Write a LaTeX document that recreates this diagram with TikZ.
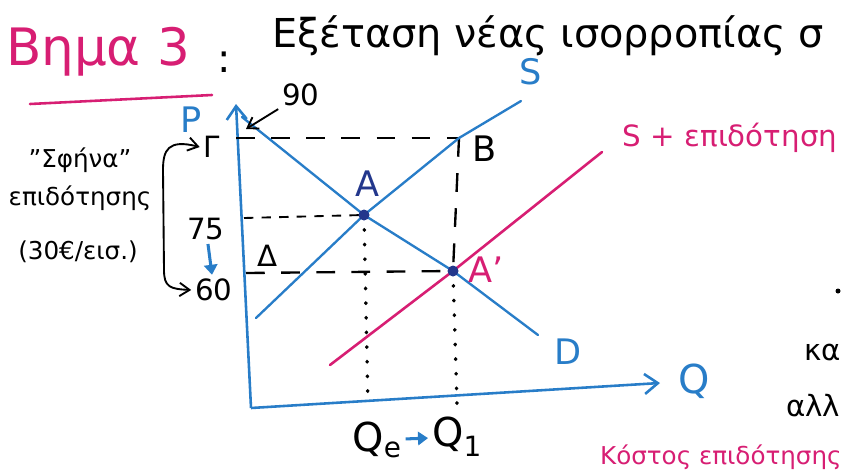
\documentclass[tikz,border=0pt]{standalone}
\usepackage{fontspec}
\setmainfont{DejaVu Sans}
\usetikzlibrary{arrows.meta,positioning}
\definecolor{penblue}{RGB}{40,125,200}
\definecolor{penpink}{RGB}{215,30,115}
\definecolor{dotblue}{RGB}{35,55,140}

\begin{document}
\begin{tikzpicture}[x=0.03cm,y=-0.03cm,
  curve/.style={penblue,line width=2pt,line cap=round},
  subline/.style={penpink,line width=2.2pt,line cap=round},
  axis/.style={penblue,line width=2.2pt,-{Straight Barb[length=4mm,width=6mm]}},
  guide/.style={black,line width=2pt,dash pattern=on 16pt off 14pt},
  guidesmall/.style={black,line width=1.6pt,dash pattern=on 8pt off 7pt},
  dotline/.style={black,line width=3pt,dash pattern=on 0.5pt off 12pt,line cap=round},
  pen/.style={black,line width=1.6pt,-{Straight Barb[length=3mm,width=4mm]}},
  shift arrow/.style={penblue,line width=2.6pt,-{Triangle[length=3mm,width=4mm]}},
  big/.style={font=\fontsize{44}{50}\selectfont},
  head/.style={font=\fontsize{34}{38}\selectfont},
  lab/.style={font=\fontsize{30}{34}\selectfont},
  num/.style={font=\fontsize{25}{28}\selectfont},
  note/.style={font=\fontsize{21}{24}\selectfont}]
\clip (0,0) rectangle (844,472);
% title line
\node[big,text=penpink] (step) at (98,52) {Βημα 3};
\coordinate (ul1) at (30,104);
\coordinate (ul2) at (212,95);
\draw[penpink,line width=2.2pt,line cap=round] (ul1) -- (ul2);
\node[head] (colon) at (224,62) {:};
\node[head,anchor=west] (title) at (268,36) {Εξέταση νέας ισορροπίας σ};
% axes
\coordinate (O) at (251,408);
\coordinate (Ptop) at (236,104);
\coordinate (Qend) at (660,383);
\draw[axis] (O) -- (Ptop);
\draw[axis] (O) -- (Qend);
\node[lab,text=penblue] (P) at (191,120) {P};
\node[head,text=penblue] (Q) at (694,381) {Q};
% key points
\coordinate (A) at (364,215);
\coordinate (A1) at (453,271);
\coordinate (B) at (459,138);
% guide lines
\coordinate (G) at (236,138);
\coordinate (p75) at (244,218);
\coordinate (p60) at (246,273);
\coordinate (qe) at (368,405);
\coordinate (q1) at (457,404);
\draw[guide] (G) -- (B);
\draw[guidesmall] (p75) -- (A);
\draw[guide] (p60) -- (A1);
\draw[guide] (B) -- (A1);
\draw[dotline] (A) -- (qe);
\draw[dotline] (A1) -- (q1);
% demand and supply
\coordinate (Dtop) at (242,117);
\coordinate (Dbot) at (538,335);
\coordinate (Sbot) at (256,318);
\coordinate (Stop) at (521,101);
\coordinate (Sub1) at (330,365);
\coordinate (Sub2) at (602,152);
\draw[curve] (Dtop) -- (A) -- (A1) -- (Dbot);
\draw[curve] (Sbot) -- (A) -- (B) -- (Stop);
\draw[subline] (Sub1) -- (A1) -- (Sub2);
\fill[dotblue] (A) circle (5.5);
\fill[dotblue] (A1) circle (5.5);
\node[lab,text=penblue] (D) at (568,352) {D};
\node[lab,text=penblue] (S) at (531,72) {S};
\node[num,text=penpink] (Ssub) at (730,138) {S + επιδότηση};
\node[lab] (Bl) at (485,149) {B};
\node[lab,text=dotblue] (Al) at (368,184) {A};
\node[lab,text=penpink] (A1l) at (486,270) {A’};
\node[num] (Dl) at (268,256) {Δ};
% price labels
\node[num] (n90) at (301,95) {90};
\coordinate (t90) at (246,129);
\draw[pen] (n90) -- (t90);
\node[num] (nG) at (212,147) {Γ};
\node[num] (n75) at (206,229) {75};
\node[num] (n60) at (214,290) {60};
\draw[shift arrow] (n75) -- (n60);
\draw[black,line width=1.6pt,{Straight Barb[length=3mm,width=4mm]}-{Straight Barb[length=3mm,width=4mm]}]
  (nG.west) .. controls (168,139) and (163,150) .. (163,170) -- (164,270)
  .. controls (164,287) and (170,289) .. (n60.west);
\node[note] (wedge) at (80,160) {''Σφήνα''};
\node[note] (subs) at (80,198) {επιδότησης};
\node[note] (rate) at (78,252) {(30€/εισ.)};
% quantities
\node[head] (Qe) at (377,440) {Q\textsubscript{e}};
\node[head] (Q1) at (457,437) {Q\textsubscript{1}};
\draw[shift arrow] (Qe) -- (Q1);
% notes at the page edge
\node[note,text=penpink,anchor=south east,inner sep=1pt] (cost) at (843,471) {Κόστος επιδότησης};
\node[num,anchor=west] (ka) at (800,352) {κα};
\node[num,anchor=west] (all) at (782,406) {αλλ};
\fill (838,291) circle (2.5);
\end{tikzpicture}
\end{document}
